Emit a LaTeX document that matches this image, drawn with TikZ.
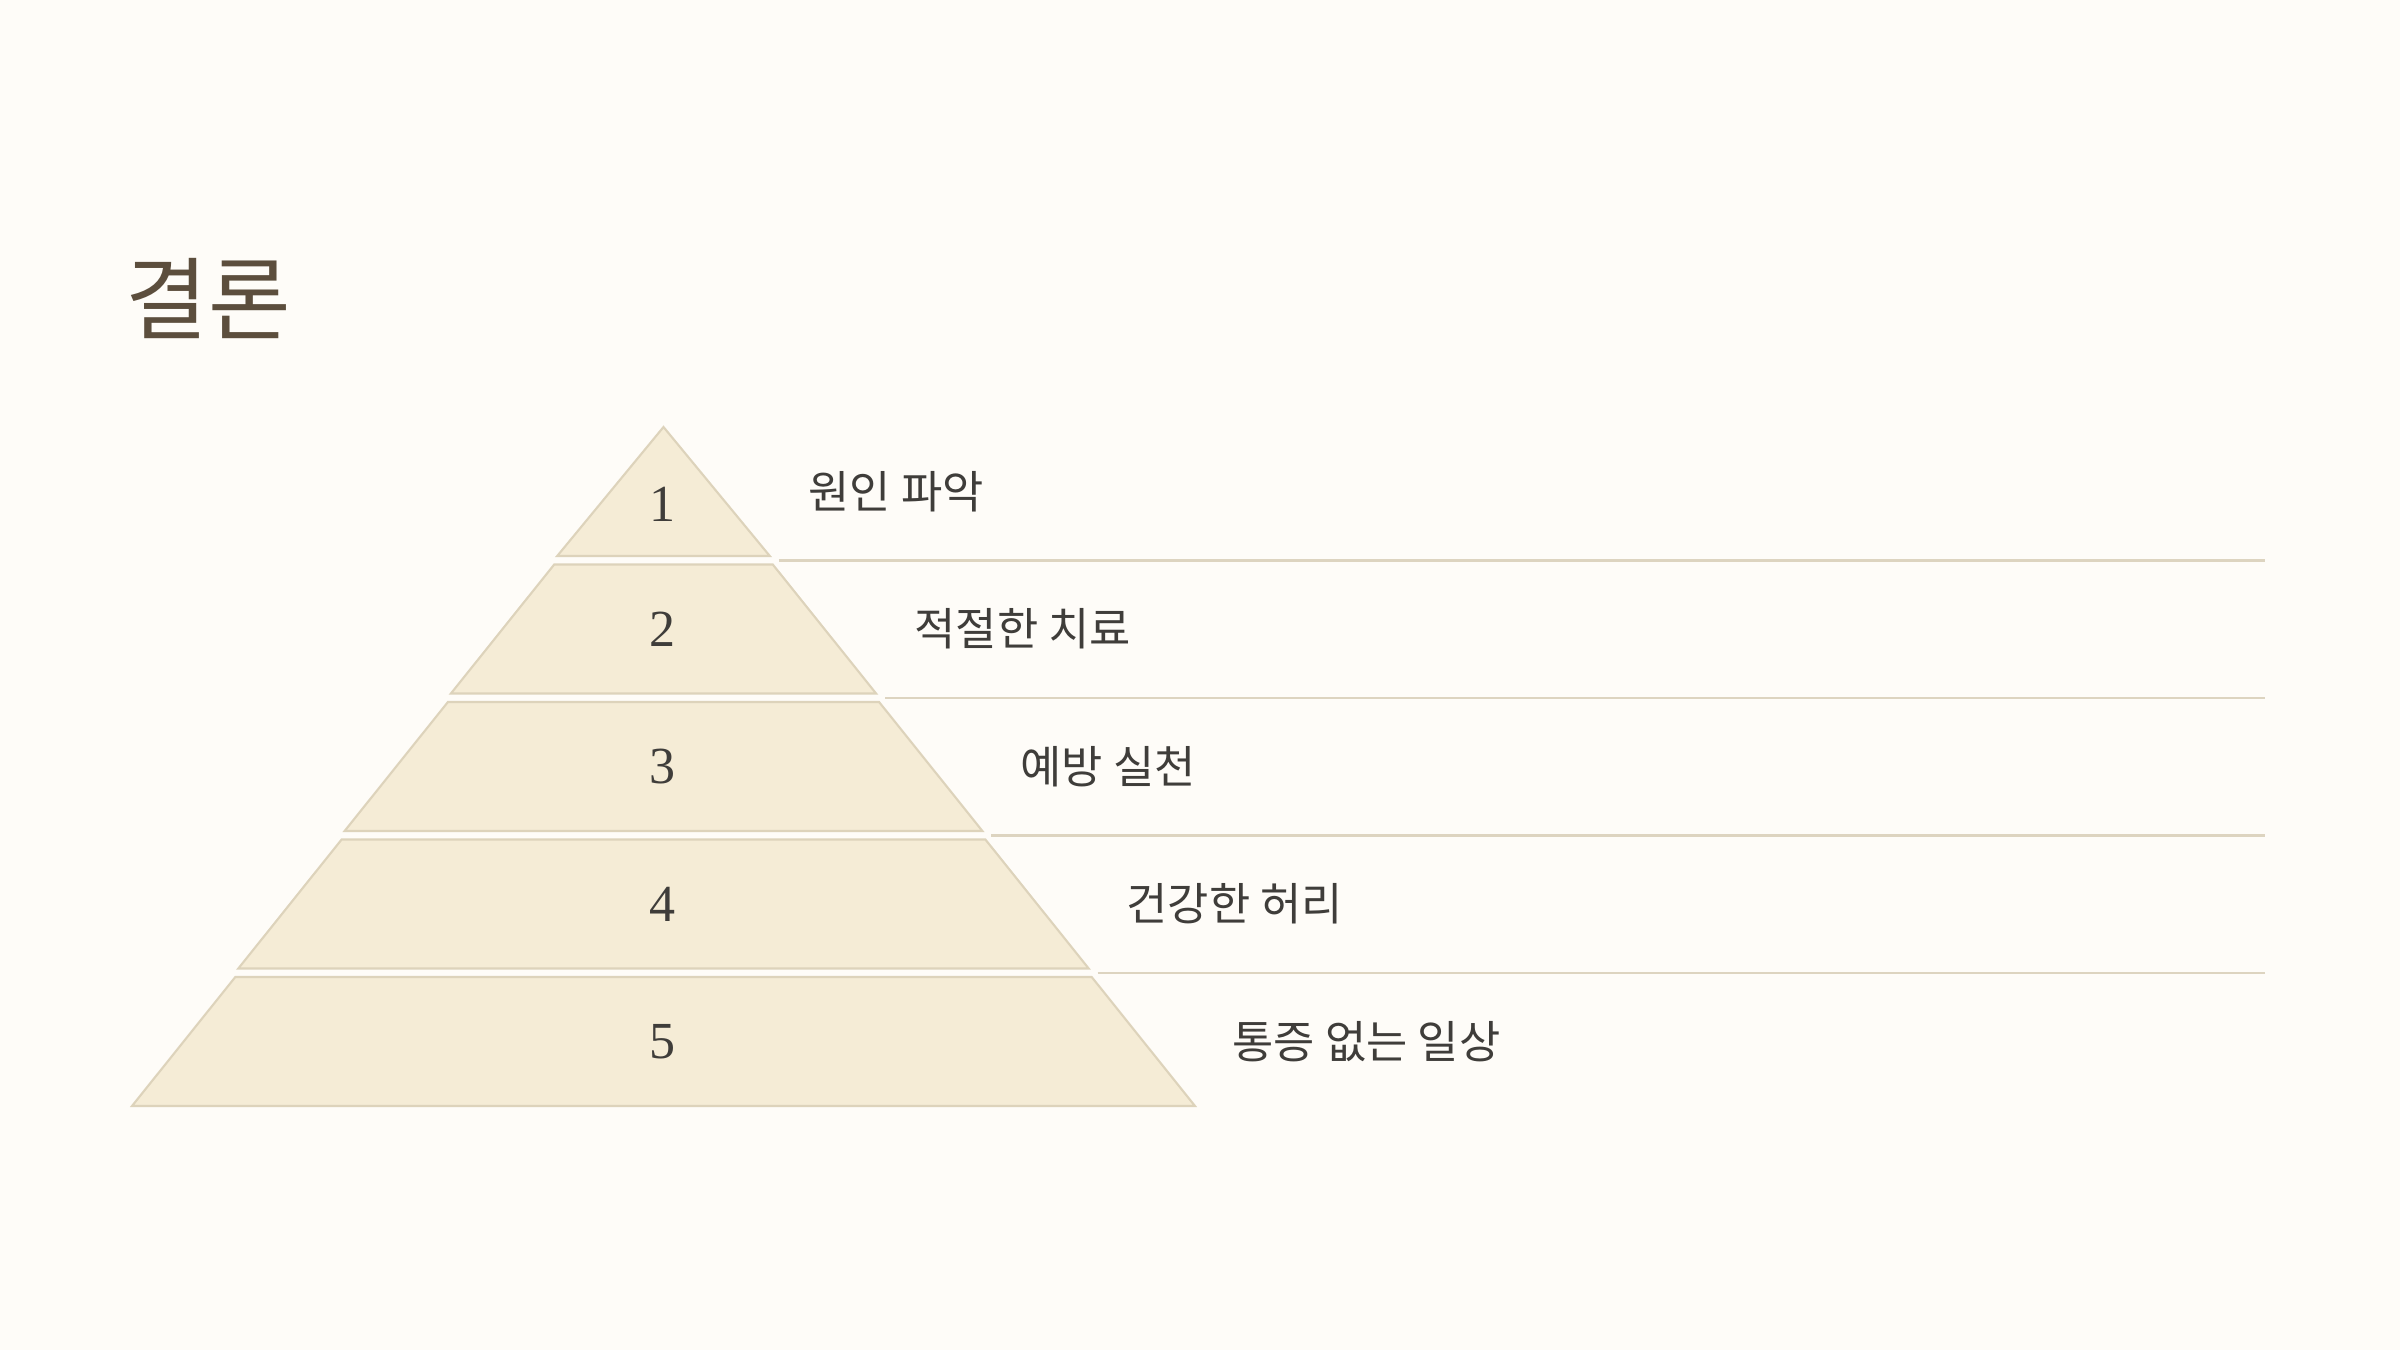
\documentclass[tikz,border=0pt]{standalone}
\usepackage{fontspec}
\newfontfamily\kr{Noto Sans CJK KR}
\newfontfamily\numfont{Liberation Serif}
\definecolor{bgc}{HTML}{FEFCF8}
\definecolor{tierfill}{HTML}{F5ECD6}
\definecolor{tierdraw}{HTML}{DDD3BB}
\definecolor{sepc}{HTML}{DDD4C0}
\definecolor{titlec}{HTML}{5C4E3D}
\definecolor{textc}{HTML}{3F3D3A}
\tikzset{
  tier/.style={fill=tierfill,draw=tierdraw,line width=0.6pt,line join=miter},
  sepline/.style={draw=sepc,line width=0.6pt},
  numlbl/.style={font=\numfont\fontsize{14.8pt}{18pt}\selectfont,text=textc,inner sep=0pt},
  steplbl/.style={font=\kr\fontsize{12.75pt}{15pt}\selectfont,text=textc,anchor=west,inner sep=0pt},
  titlelbl/.style={font=\kr\fontsize{25.5pt}{30pt}\selectfont,text=titlec,anchor=west,inner sep=0pt}
}
\begin{document}
\begin{tikzpicture}[x=0.01cm,y=-0.01cm]
\fill[bgc] (0,0) rectangle (2400,1350);
\useasboundingbox (0,0) rectangle (2400,1350);
\node[titlelbl] (title) at (125,298) {결론};
\def\pcx{663.5}
\def\pay{427}
\foreach \i/\txt in {0/원인 파악,1/적절한 치료,2/예방 실천,3/건강한 허리,4/통증 없는 일상}{
  \pgfmathsetmacro{\yt}{\pay+\i*137.5}
  \pgfmathsetmacro{\yb}{\yt+129}
  \pgfmathsetmacro{\wt}{ifthenelse(\i==0,0,106.3*\i+3)}
  \pgfmathsetmacro{\wb}{106.3*(\i+1)}
  \pgfmathsetmacro{\ym}{(\yt+\yb)/2}
  \pgfmathsetmacro{\xl}{808+106*\i}
  \draw[tier] (\pcx-\wt,\yt) -- (\pcx+\wt,\yt) -- (\pcx+\wb,\yb) -- (\pcx-\wb,\yb) -- cycle;
  \node[steplbl] (lbl\i) at (\xl,\ym) {\txt};
}
\node[numlbl] (n1) at (663,504) {1};
\node[numlbl] (n2) at (663,629) {2};
\node[numlbl] (n3) at (663,766.5) {3};
\node[numlbl] (n4) at (663,904) {4};
\node[numlbl] (n5) at (663,1041.5) {5};
\foreach \i in {0,1,2,3}{
  \pgfmathsetmacro{\ys}{\pay+\i*137.5+133.5}
  \pgfmathsetmacro{\xs}{\pcx+106.3*(\i+1)+9}
  \coordinate (sa\i) at (\xs,\ys);
  \coordinate (sb\i) at (2265,\ys);
  \draw[sepline] (sa\i) -- (sb\i);
}
\end{tikzpicture}
\end{document}
